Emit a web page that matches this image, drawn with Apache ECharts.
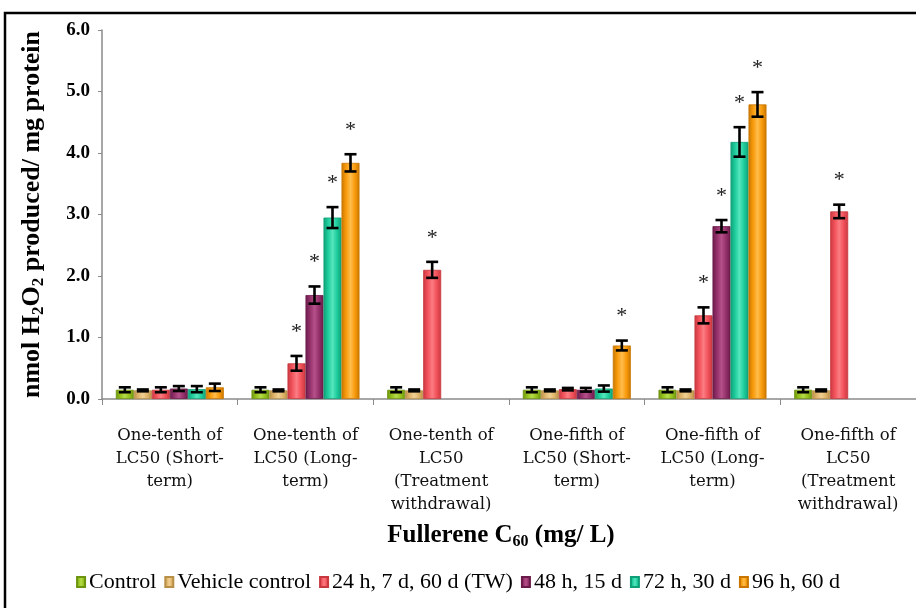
<!DOCTYPE html>
<html>
<head>
<meta charset="utf-8">
<script src="https://cdn.jsdelivr.net/npm/echarts@6/dist/echarts.min.js"></script>
<style>
html,body{margin:0;padding:0;background:#fff;}
#chart{width:916px;height:608px;}
</style>
</head>
<body>
<div id="chart"></div>
<script>
const categories = [
  'One-tenth of\nLC50 (Short-\nterm)',
  'One-tenth of\nLC50 (Long-\nterm)',
  'One-tenth of\nLC50\n(Treatment\nwithdrawal)',
  'One-fifth of\nLC50 (Short-\nterm)',
  'One-fifth of\nLC50 (Long-\nterm)',
  'One-fifth of\nLC50\n(Treatment\nwithdrawal)'
];
const seriesNames = ['Control', 'Vehicle control', '24 h, 7 d, 60 d (TW)', '48 h, 15 d', '72 h, 30 d', '96 h, 60 d'];
const yTicks = [0, 1, 2, 3, 4, 5, 6];

const control = [0.15, 0.15, 0.15, 0.15, 0.15, 0.15];
const vehicle = [0.14, 0.14, 0.14, 0.14, 0.14, 0.14];
const h24 = [0.15, 0.58, 2.10, 0.16, 1.36, 3.05];
const h48 = [0.17, 1.69, null, 0.15, 2.81, null];
const h72 = [0.16, 2.95, null, 0.17, 4.18, null];
const h96 = [0.19, 3.84, null, 0.87, 4.79, null];

const controlErr = [0.04, 0.04, 0.04, 0.04, 0.04, 0.04];
const vehicleErr = [0.015, 0.015, 0.015, 0.015, 0.015, 0.015];
const h24Err = [0.04, 0.12, 0.13, 0.02, 0.13, 0.11];
const h48Err = [0.04, 0.14, null, 0.03, 0.10, null];
const h72Err = [0.05, 0.17, null, 0.05, 0.24, null];
const h96Err = [0.06, 0.14, null, 0.08, 0.20, null];

const controlSig = [0, 0, 0, 0, 0, 0];
const vehicleSig = [0, 0, 0, 0, 0, 0];
const h24Sig = [0, 1, 1, 0, 1, 1];
const h48Sig = [0, 1, 0, 0, 1, 0];
const h72Sig = [0, 1, 0, 0, 1, 0];
const h96Sig = [0, 1, 0, 1, 1, 0];

const values = [control, vehicle, h24, h48, h72, h96];
const errs = [controlErr, vehicleErr, h24Err, h48Err, h72Err, h96Err];
const sigs = [controlSig, vehicleSig, h24Sig, h48Sig, h72Sig, h96Sig];

const palette = [
  {base: '#95c21c', light: '#b6dc4a', dark: '#6d9410'},
  {base: '#e0b46a', light: '#f0cf92', dark: '#b99047'},
  {base: '#f2515a', light: '#fb7c82', dark: '#c8383f'},
  {base: '#94306a', light: '#b5508a', dark: '#6a1b4a'},
  {base: '#1dcc9c', light: '#55e6bd', dark: '#10a077'},
  {base: '#f89a0b', light: '#ffbd4d', dark: '#c87600'}
];

const BAR_W = 18;

function grad(c) {
  return new echarts.graphic.LinearGradient(0, 0, 1, 0, [
    {offset: 0, color: c.dark},
    {offset: 0.25, color: c.base},
    {offset: 0.5, color: c.light},
    {offset: 0.75, color: c.base},
    {offset: 1, color: c.dark}
  ]);
}

const chart = echarts.init(document.getElementById('chart'));

const barSeries = seriesNames.map((name, i) => ({
  name: name,
  type: 'bar',
  data: values[i],
  barWidth: BAR_W,
  barGap: '0%',
  itemStyle: {color: grad(palette[i]), borderColor: palette[i].dark, borderWidth: 0.8},
  emphasis: {disabled: true}
}));

const errData = [];
for (let s = 0; s < values.length; s++) {
  for (let c = 0; c < categories.length; c++) {
    if (values[s][c] != null) {
      errData.push([c, s, values[s][c], errs[s][c], sigs[s][c]]);
    }
  }
}

const errSeries = {
  type: 'custom',
  name: 'err',
  z: 10,
  silent: true,
  data: errData,
  encode: {x: 0, y: 2},
  renderItem: function (params, api) {
    const c = api.value(0), s = api.value(1), v = api.value(2), e = api.value(3), sig = api.value(4);
    const x = api.coord([c, 0])[0] + (s - 2.5) * BAR_W;
    const yT = api.coord([c, v + e])[1];
    const yB = api.coord([c, v - e])[1];
    const st = {stroke: '#000', lineWidth: 2.6};
    const kids = [
      {type: 'line', shape: {x1: x, y1: yT, x2: x, y2: yB}, style: st},
      {type: 'line', shape: {x1: x - 6, y1: yT, x2: x + 6, y2: yT}, style: st},
      {type: 'line', shape: {x1: x - 6, y1: yB, x2: x + 6, y2: yB}, style: st}
    ];
    if (sig) {
      kids.push({type: 'text', style: {text: '*', x: x, y: yT - 24, align: 'center', verticalAlign: 'middle',
        fontFamily: 'Liberation Serif', fontSize: 22, fill: '#222'}});
    }
    return {type: 'group', children: kids};
  }
};

const option = {
  backgroundColor: '#fff',
  animation: false,
  grid: {left: 102, right: -8, top: 30, bottom: 209, containLabel: false},
  legend: {
    data: seriesNames,
    left: 'center',
    top: 566,
    itemWidth: 8,
    itemHeight: 10,
    itemGap: 8,
    icon: 'rect',
    textStyle: {fontFamily: 'Liberation Serif', fontSize: 22, color: '#000', padding: [0, 0, 0, -1]}
  },
  xAxis: {
    type: 'category',
    data: categories,
    axisLine: {lineStyle: {color: '#8a8a8a', width: 1.5}},
    axisTick: {show: true, length: 6, lineStyle: {color: '#8a8a8a'}},
    axisLabel: {
      interval: 0,
      margin: 25,
      fontFamily: 'DejaVu Serif',
      fontSize: 16.5,
      lineHeight: 23,
      color: '#111',
      align: 'center'
    }
  },
  yAxis: {
    type: 'value',
    min: 0,
    max: 6,
    interval: 1,
    splitLine: {show: false},
    axisLine: {show: true, lineStyle: {color: '#8a8a8a', width: 1.5}},
    axisTick: {show: true, length: 4, lineStyle: {color: '#8a8a8a'}},
    axisLabel: {
      margin: 12,
      fontFamily: 'Liberation Serif',
      fontWeight: 'bold',
      fontSize: 19,
      color: '#000',
      formatter: v => yTicks.includes(v) ? v.toFixed(1) : ''
    },
    name: 'nmol H{sub|2}O{sub|2} produced/ mg protein',
    nameLocation: 'middle',
    nameGap: 55,
    nameTextStyle: {
      fontFamily: 'Liberation Serif', fontWeight: 'bold', fontSize: 26, color: '#000',
      rich: {sub: {fontFamily: 'Liberation Serif', fontWeight: 'bold', fontSize: 17, color: '#000', verticalAlign: 'bottom', padding: [13, 0, 0, 0]}}
    }
  },
  graphic: [
    {type: 'rect', shape: {x: 5, y: 13, width: 1000, height: 700}, style: {fill: 'none', stroke: '#000', lineWidth: 2.5}, z: 100, silent: true},
    {type: 'text', x: 501, y: 536, style: {
      text: 'Fullerene C{sub|60} (mg/ L)', align: 'center', verticalAlign: 'middle',
      fontFamily: 'Liberation Serif', fontWeight: 'bold', fontSize: 25, fill: '#000',
      rich: {sub: {fontFamily: 'Liberation Serif', fontWeight: 'bold', fontSize: 16, fill: '#000', padding: [12, 0, 0, 0]}}
    }}
  ],
  series: barSeries.concat([errSeries])
};

chart.setOption(option);
</script>
</body>
</html>
